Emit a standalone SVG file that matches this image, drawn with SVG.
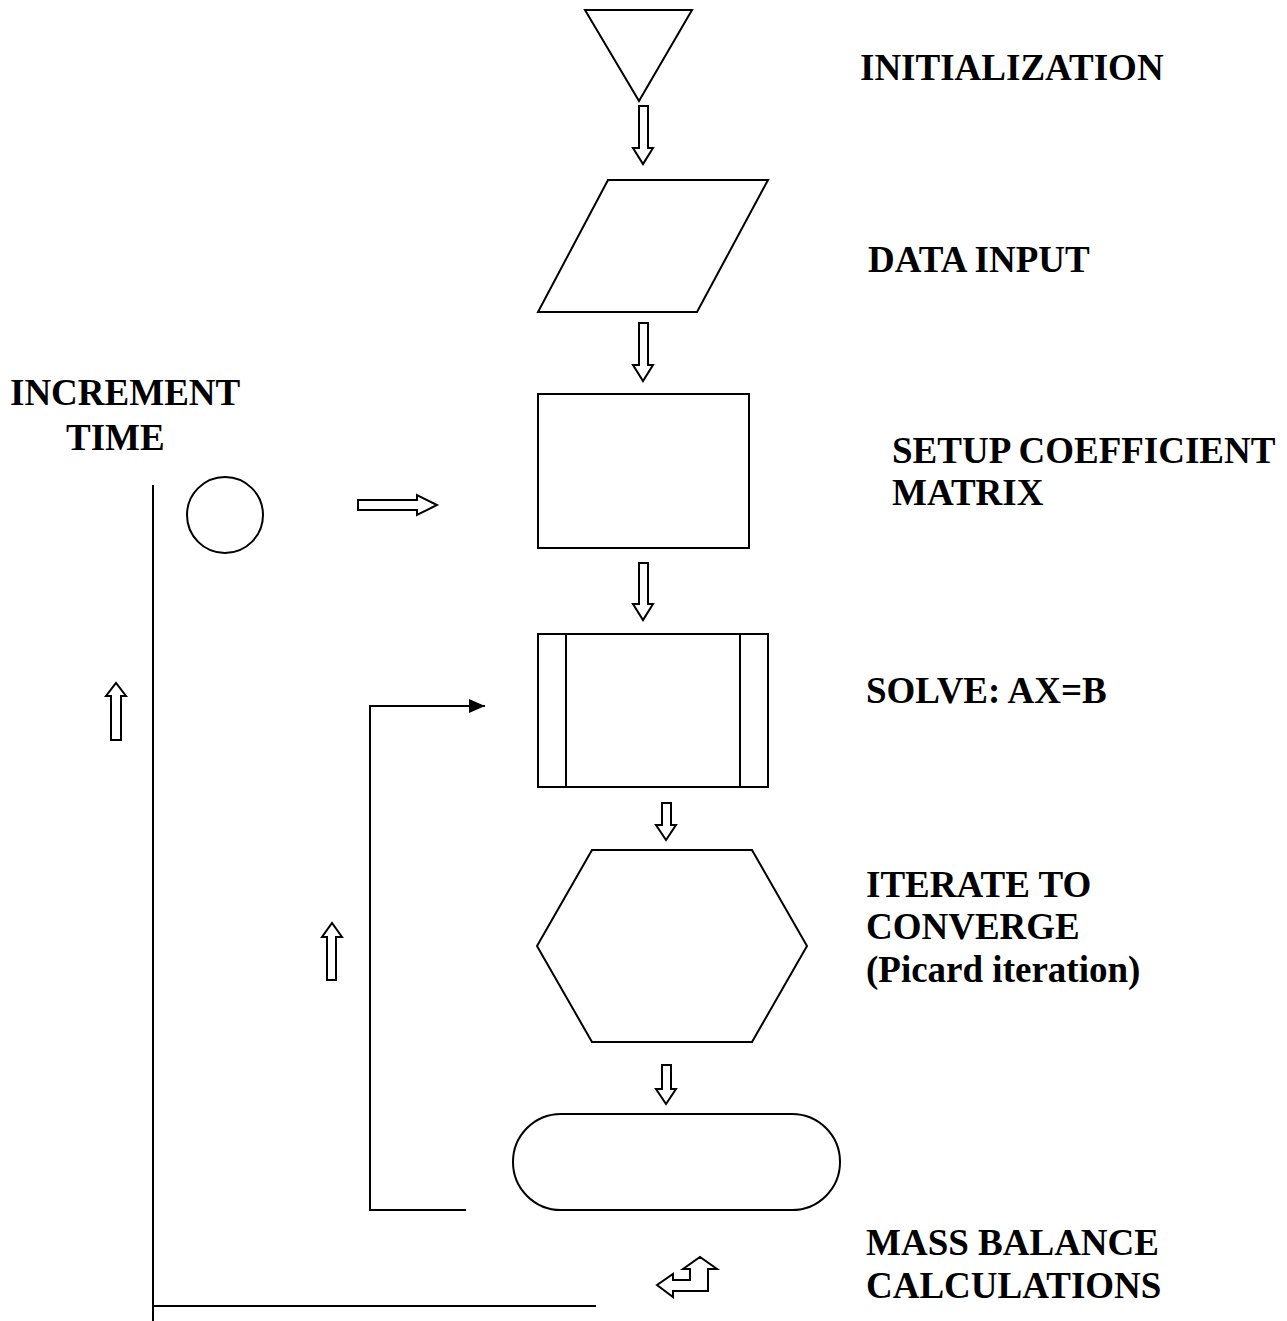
<svg xmlns="http://www.w3.org/2000/svg" width="1287" height="1321" viewBox="0 0 1287 1321">
<style>
.s{fill:#fff;stroke:#000;stroke-width:2}
.ba{fill:#fff;stroke:#000;stroke-width:2;stroke-linejoin:miter}
.ln{fill:none;stroke:#000;stroke-width:2}
.t{font-family:"Liberation Serif","Times New Roman",serif;font-weight:bold;font-size:37px;fill:#000}
</style>
<defs>
<marker id="ah" markerWidth="16" markerHeight="14" refX="16" refY="7" orient="auto" markerUnits="userSpaceOnUse">
<path d="M0,0 L16,7 L0,14 Z" fill="#000"/>
</marker>
</defs>
<rect width="1287" height="1321" fill="#fff"/>
<g id="node-init"><polygon class="s" points="585,10 692,10 639,101"/></g>
<g id="node-input"><polygon class="s" points="608,180 768,180 697,312 538,312"/></g>
<g id="node-setup"><rect class="s" x="538" y="394" width="211" height="154"/></g>
<g id="node-solve"><rect class="s" x="538" y="634" width="230" height="153"/><line class="ln" x1="566" y1="634" x2="566" y2="787"/><line class="ln" x1="740" y1="634" x2="740" y2="787"/></g>
<g id="node-iterate"><polygon class="s" points="592,850 752,850 807,946 752,1042 592,1042 537,946"/></g>
<g id="node-mass"><rect class="s" x="513" y="1114" width="327" height="96" rx="48" ry="48"/></g>
<g id="node-time"><circle class="s" cx="225" cy="515" r="38"/></g>
<g id="connectors">
<polygon class="ba" points="639,106 648,106 648,148 653,148 643,164 633,148 639,148"/>
<polygon class="ba" points="639,323 648,323 648,365 653,365 643,381 633,365 639,365"/>
<polygon class="ba" points="639,563 648,563 648,604 653,604 643,620 633,604 639,604"/>
<polygon class="ba" points="662,803 671,803 671,825 676,825 666,840 656,825 662,825"/>
<polygon class="ba" points="662,1065 671,1065 671,1089 676,1089 666,1104 656,1089 662,1089"/>
<polygon class="ba" points="358,500 417,500 417,495 437,505 417,515 417,510 358,510"/>
<polygon class="ba" points="111,740 121,740 121,696 126,696 116,683 106,696 111,696"/>
<polygon class="ba" points="327,980 336,980 336,937 342,937 332,923 322,937 327,937"/>
<polygon class="ba" points="657,1285 673,1274 673,1280 690,1280 690,1269 683,1269 700,1257 717,1269 708,1269 708,1291 673,1291 673,1297"/>
<polyline class="ln" points="466,1210 370,1210 370,706 485,706" marker-end="url(#ah)"/>
<polyline class="ln" points="153,485 153,1321"/>
<line class="ln" x1="153" y1="1306" x2="596" y2="1306"/>
</g>
<g id="labels">
<text class="t" x="860" y="80">INITIALIZATION</text>
<text class="t" x="868" y="272">DATA INPUT</text>
<text class="t" x="10" y="405">INCREMENT</text>
<text class="t" x="66" y="450">TIME</text>
<text class="t" x="892" y="463">SETUP COEFFICIENT</text>
<text class="t" x="892" y="505">MATRIX</text>
<text class="t" x="866" y="703">SOLVE: AX=B</text>
<text class="t" x="866" y="897">ITERATE TO</text>
<text class="t" x="866" y="939">CONVERGE</text>
<text class="t" x="866" y="982">(Picard iteration)</text>
<text class="t" x="866" y="1255">MASS BALANCE</text>
<text class="t" x="866" y="1298">CALCULATIONS</text>
</g>
</svg>
